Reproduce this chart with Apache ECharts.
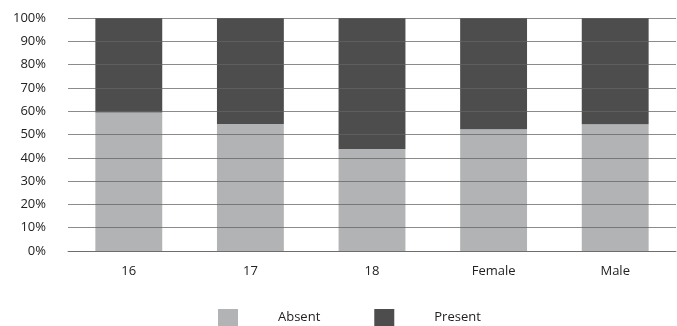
<!DOCTYPE html>
<html>
<head>
<meta charset="utf-8">
<script src="https://cdn.jsdelivr.net/npm/echarts@6/dist/echarts.min.js"></script>
<style>
  html, body { margin: 0; padding: 0; background: #fff; }
  #chart { width: 677px; height: 326px; }
</style>
</head>
<body>
<div id="chart"></div>
<script>
// Share of each group (percent), stacked to 100%
const categories = ['16', '17', '18', 'Female', 'Male'];
const absent = [59.4, 54.5, 43.8, 52.2, 54.4];
const present = absent.map(v => +(100 - v).toFixed(1));
const seriesNames = ['Absent', 'Present'];

const chart = echarts.init(document.getElementById('chart'), null, { renderer: 'canvas' });
const font = 'Open Sans, Liberation Sans, sans-serif';

chart.setOption({
  animation: false,
  grid: { left: 68, right: 1, top: 18, bottom: 75, containLabel: false },
  legend: {
    data: seriesNames,
    top: 304,
    left: 213,
    itemWidth: 20,
    itemHeight: 17,
    itemGap: 54,
    icon: 'rect',
    textStyle: { fontFamily: font, fontSize: 13, color: '#222', padding: [0, 0, 0, 35] }
  },
  xAxis: {
    type: 'category',
    data: categories,
    axisTick: { show: false },
    axisLine: { show: true, lineStyle: { color: '#888', width: 1 } },
    axisLabel: { fontFamily: font, fontSize: 13, color: '#222', margin: 14 }
  },
  yAxis: {
    type: 'value',
    min: 0,
    max: 100,
    interval: 10,
    z: 3,
    axisLine: { show: false },
    axisTick: { show: false },
    axisLabel: { fontFamily: font, fontSize: 13, color: '#222', margin: 22, formatter: '{value}%' },
    splitLine: { lineStyle: { color: 'rgba(100,100,100,0.75)', width: 1 } }
  },
  series: [
    {
      name: seriesNames[0],
      type: 'bar',
      stack: 'total',
      data: absent,
      barWidth: '55%',
      itemStyle: { color: '#b2b3b4' }
    },
    {
      name: seriesNames[1],
      type: 'bar',
      stack: 'total',
      data: present,
      barWidth: '55%',
      itemStyle: { color: '#4d4d4d' }
    }
  ]
});
</script>
</body>
</html>
